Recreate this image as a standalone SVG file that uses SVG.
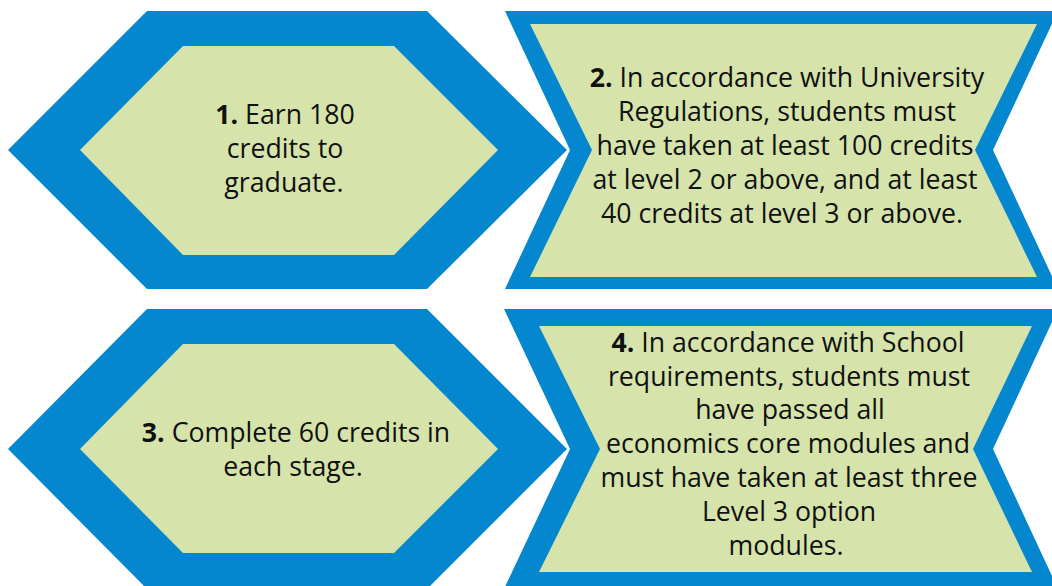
<svg xmlns="http://www.w3.org/2000/svg" width="1052" height="586" viewBox="0 0 1052 586">
<style>
.outer{fill:#0487cf}
.inner{fill:#d6e4ac}
text{font-family:"Open Sans","Liberation Sans",sans-serif;font-size:26.7px;fill:#111;text-anchor:middle}
.b{font-weight:bold}
</style>
<rect width="1052" height="586" fill="#fff"/>
<g id="node1">
<polygon class="outer" points="8,150 147,11 427,11 567,150 427,289 147,289"/>
<polygon class="inner" points="80,150 183,46 394,46 498,150 394,255 183,255"/>
<text x="285" y="124"><tspan class="b">1.</tspan> Earn 180</text>
<text x="285" y="158">credits to</text>
<text x="284" y="192">graduate.</text>
</g>
<g id="node2">
<polygon class="outer" points="505,11 1058,11 993,150 1058,289 505,289 570,150"/>
<polygon class="inner" points="530,24 1037,24 975,150 1037,277 530,277 592,150"/>
<text x="787" y="87"><tspan class="b">2.</tspan> In accordance with University</text>
<text x="787" y="121">Regulations, students must</text>
<text x="785" y="155">have taken at least 100 credits</text>
<text x="785" y="189">at level 2 or above, and at least</text>
<text x="782" y="223">40 credits at level 3 or above.</text>
</g>
<g id="node3">
<polygon class="outer" points="8,449 147,309 427,309 567,449 427,589 147,589"/>
<polygon class="inner" points="80,449 183,344 394,344 498,449 394,553 183,553"/>
<text x="296" y="442"><tspan class="b">3.</tspan> Complete 60 credits in</text>
<text x="293" y="476">each stage.</text>
</g>
<g id="node4">
<polygon class="outer" points="504,309 1058,309 993,449 1058,589 504,589 570,449"/>
<polygon class="inner" points="539,326 1032,326 973,449 1032,572 539,572 600,449"/>
<text x="788" y="352"><tspan class="b">4.</tspan> In accordance with School</text>
<text x="789" y="386">requirements, students must</text>
<text x="790" y="419">have passed all</text>
<text x="788" y="453">economics core modules and</text>
<text x="789" y="487">must have taken at least three</text>
<text x="789" y="521">Level 3 option</text>
<text x="786" y="555">modules.</text>
</g>
<g id="connectors"></g>
</svg>
